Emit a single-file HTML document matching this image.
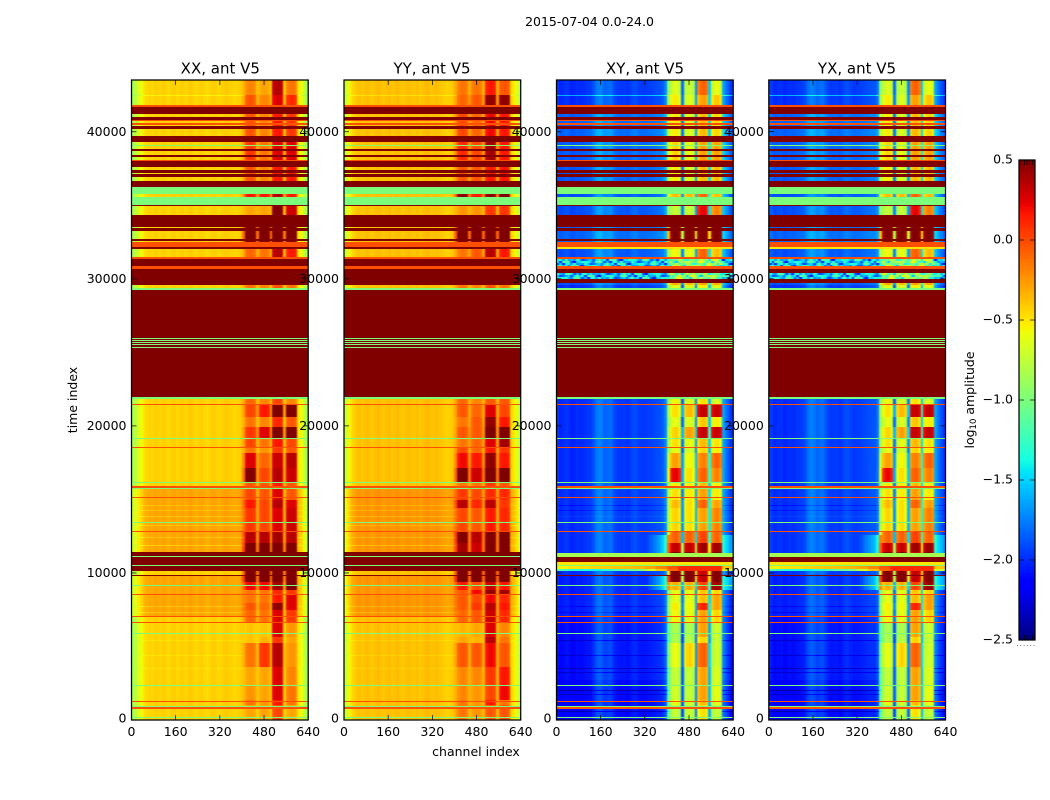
<!DOCTYPE html>
<html>
<head>
<meta charset="utf-8">
<title>2015-07-04 amplitude waterfall, ant V5</title>
<style>
html,body{margin:0;padding:0;background:#fff;}
svg{display:block;font-family:"DejaVu Sans","Liberation Sans",sans-serif;}
text{fill:#000;}
</style>
</head>
<body>
<svg id="figure" xmlns="http://www.w3.org/2000/svg" width="1050" height="800" viewBox="0 0 1050 800">
  <defs>
    <filter id="channel-smooth" color-interpolation-filters="sRGB">
      <feGaussianBlur stdDeviation="0.9 0"/>
    </filter>
  </defs>
  <rect x="0" y="0" width="1050" height="800" fill="#fff"/>
  <g id="panels"></g>
  <text x="589.5" y="26" font-size="12.5" text-anchor="middle">2015-07-04 0.0-24.0</text>
  <text x="220.3" y="73.5" font-size="15" text-anchor="middle">XX, ant V5</text>
  <text x="432" y="73.5" font-size="15" text-anchor="middle">YY, ant V5</text>
  <text x="645" y="73.5" font-size="15" text-anchor="middle">XY, ant V5</text>
  <text x="857" y="73.5" font-size="15" text-anchor="middle">YX, ant V5</text>
  <text x="0" y="0" font-size="12.5" text-anchor="middle" transform="translate(77,400) rotate(-90)">time index</text>
  <text x="476" y="756" font-size="12.5" text-anchor="middle">channel index</text>
  <g id="colorbar"></g>
  <text x="0" y="0" font-size="12.5" text-anchor="middle" transform="translate(974,400) rotate(-90)">log<tspan font-size="8.5" dy="2">10</tspan><tspan dy="-2"> amplitude</tspan></text>
</svg>
<script>
// ---------- axis tick labels ----------
const channelTicks = [0, 160, 320, 480, 640];
const timeTicks = [0, 10000, 20000, 30000, 40000];
const colorTicks = [0.5, 0.0, -0.5, -1.0, -1.5, -2.0, -2.5];
const colorTickLabels = ['0.5', '0.0', '\u22120.5', '\u22121.0', '\u22121.5', '\u22122.0', '\u22122.5'];

// ---------- channel profiles: log10 amplitude per 10-channel bin ----------
const profileXX = [-.86,-.76,-.66,-.58,-.5,-.46,-.44,-.46,-.42,-.43,-.45,-.42,-.44,-.47,-.43,-.42,-.46,-.44,-.42,-.45,-.43,-.41,-.44,-.46,-.43,-.42,-.45,-.47,-.44,-.42,-.43,-.46,-.44,-.42,-.41,-.43,-.44,-.46,-.44,-.42,-.4,-.38,-.34,-.33,-.37,-.48,-.38,-.34,-.33,-.37,-.5,-.38,-.34,-.33,-.37,-.5,-.38,-.34,-.33,-.37,-.5,-.58,-.72,-.85];
const profileYY = [-.72,-.6,-.5,-.44,-.4,-.38,-.41,-.39,-.37,-.4,-.41,-.38,-.36,-.39,-.41,-.38,-.37,-.4,-.38,-.36,-.39,-.41,-.38,-.36,-.39,-.4,-.37,-.42,-.39,-.37,-.36,-.4,-.38,-.37,-.39,-.41,-.42,-.44,-.42,-.4,-.38,-.38,-.34,-.33,-.37,-.44,-.38,-.34,-.33,-.37,-.44,-.38,-.34,-.33,-.37,-.44,-.38,-.34,-.33,-.37,-.44,-.5,-.6,-.72];
const profileXY = [-1.92,-1.98,-1.96,-1.93,-1.95,-2,-1.98,-1.95,-1.97,-1.96,-1.94,-1.92,-1.92,-1.85,-1.74,-1.7,-1.72,-1.8,-1.78,-1.76,-1.82,-1.9,-1.92,-1.93,-1.92,-1.95,-1.93,-1.88,-1.86,-1.9,-1.92,-1.93,-1.92,-1.9,-1.9,-1.88,-1.86,-1.85,-1.82,-1.7,-1,-.88,-.78,-.76,-.86,-2,-.88,-.78,-.76,-.86,-1.9,-.88,-.78,-.76,-.86,-1.7,-.88,-.78,-.76,-.86,-1.6,-1.75,-1.85,-1.95];
const profileYX = [-1.9,-1.96,-1.97,-1.94,-1.95,-1.98,-1.97,-1.94,-1.96,-1.95,-1.93,-1.92,-1.9,-1.84,-1.75,-1.7,-1.74,-1.8,-1.77,-1.75,-1.83,-1.9,-1.93,-1.92,-1.91,-1.94,-1.92,-1.87,-1.85,-1.89,-1.92,-1.92,-1.91,-1.9,-1.88,-1.87,-1.85,-1.84,-1.85,-1.75,-1,-.88,-.78,-.76,-.86,-2,-.88,-.78,-.76,-.86,-1.9,-.88,-.78,-.76,-.86,-1.7,-.88,-.78,-.76,-.86,-1.6,-1.75,-1.85,-1.95];

// ---------- flagged bands shared by every panel (time index, log10 amplitude) ----------
const flatTop =    [41820,41664,41004,40800,40576,40392,39732,39120,38848,38440,38080,37992,37400,37108,36652,36264,35544,35020,34340,33456,32688,32484,32184,31504,31348,30872,30668,30416,29968,29396,29240,26010,25860,25704,25548,25384,21984,21488,19176,18544,16204,15912,15796,15164,13464,12852,11444,11172,11104,10540,10472,9860,9180,8568,7092,6664,5916,2380,1312,972,864,238];
const flatBottom = [41664,41208,40800,40712,40480,40168,39304,39032,38672,38284,37992,37604,37216,36924,36264,35768,35020,34952,33544,33232,32592,32184,32008,31348,30872,30668,30416,29968,29580,29240,21984,25942,25792,25636,25480,25316,21828,21420,19108,18496,16136,15796,15708,15096,13396,12784,11172,11104,10540,10472,10132,9792,9112,8500,7024,6596,5848,2312,1244,864,748,170];
const flatLevel =  [-.02,.5,.5,-.02,-.02,.5,.5,-.95,.5,.5,-.02,.5,.5,.5,.5,-1,-1,.5,.5,.5,.5,-.02,.5,-.02,.5,-.02,.5,.5,.5,-1,.5,-1,-1,-1,-1,-1,-1,-.02,-1,-.02,-1,-.02,-1,-.02,-1,-.02,.5,-1,.5,-1,.5,.5,-1,-.02,-.02,-.02,-1,-1,-.02,-1,-.02,-1];

// ---------- bands that read differently in the cross hands (null = ordinary row) ----------
const crossTop =    [29696,11444,11336,10764,32184];
const crossBottom = [29580,11336,11104,10540,32008];
const crossLevel =  [null,null,-.85,-.5,-.5];

// ---------- cross-hand speckle bands and their sampled amplitudes ----------
const noiseTop =    [31348,30416];
const noiseBottom = [30872,29968];
const noiseSamples = [-1.5,-1.9,-1.35,-1.7,-1.2,-2.05,-1.45,-1.6,-1.25,-1.85,-1.4,-1.15,-1.75,-1.5,-2.1,-1.3,-1.55,-1.2,-1.95,-1.45,-1.65,-1.35,-1.1,-1.8,-1.5,-1.25,-2,-1.4,-1.6,-1.3,-1.7,-1.15,-1.9,-1.45,-1.35,-1.55,-1.25];

// ---------- cross-hand flare near t = 10000 (one value per 40 channels) ----------
const flareTop =    [10472,10288];
const flareBottom = [10288,10132];
const flareUpper = [-.55,-.5,-.48,-.45,-.42,-.4,-.38,-.35,-.3,-.2,-.05,.1,.1,.1,.1,-.4];
const flareLower = [-1.2,-1.3,-1.35,-1.4,-1.3,-1.2,-1.1,-1,-.7,-.4,-.1,.1,.1,.1,.1,-.7];

// ---------- RFI block gains per time segment, four channel blocks ----------
const gainBottom = [42500,41820,39732,38080,36264,35020,33592,32300,31416,29580,21828,21420,20624,19904,19156,18544,18136,17116,16204,15708,14960,14396,12804,12016,11444,9404,8840,8548,7936,7480,6576,5664,5216,3624,2380,1360,1020,0];
const gainXXa = [.15,.3,.3,.4,.3,.5,.05,1,.25,.55,.2,.25,.35,.2,.4,.35,.2,.6,.85,.3,.35,.5,.4,.7,.9,1,.55,.2,.2,.3,.25,-.05,-.05,.2,.05,.1,.2,.05];
const gainXXb = [.05,.15,.15,.2,.15,.5,.05,1,.2,.5,.15,.15,.5,.15,.6,.2,.1,.25,.35,.3,.3,.35,.35,.7,.9,1,.55,.2,.2,.25,.2,-.05,0,.4,.05,.05,.1,.05];
const gainXXc = [.7,.6,.5,.6,.5,.7,.85,1,.7,.6,.3,.35,.9,.45,.9,.5,.4,.65,.7,.5,.6,.7,.6,.75,.95,.9,.75,.45,.5,.8,.6,.6,.4,.7,.6,.6,.5,.35];
const gainXXd = [.2,.45,.4,.6,.5,.5,.65,1,.5,.55,.2,.15,.9,.3,.9,.35,.3,.7,.65,.3,.3,.6,.65,.7,.95,1,.95,.4,.6,.6,.4,.1,.05,.1,.15,.2,.2,.05];
const gainYYa = [.2,.25,.35,.45,.3,.8,.1,1,.2,.5,.2,.25,.3,.2,.3,.2,.35,.55,.9,.2,.4,.7,.35,.85,.75,1,.5,.3,.3,.3,.25,0,.05,.3,.15,.15,.2,.2];
const gainYYb = [.2,.3,.25,.35,.3,.5,.1,1,.3,.5,.15,.15,.25,.3,.3,.25,.25,.5,.65,.2,.35,.45,.3,.7,.65,1,.35,.55,.35,.4,.3,.05,0,.3,.15,.1,.1,.1];
const gainYYc = [.5,.8,.55,.75,.5,.8,.4,1,.7,.7,.3,.3,.6,.8,.9,.6,.5,.8,.95,.4,.45,.7,.5,.85,.85,1,.65,.8,.55,.7,.65,.6,.7,.55,.4,.35,.5,.3];
const gainYYd = [.3,.8,.5,.5,.5,.9,.4,1,.5,.6,.2,.3,.35,.5,.9,.75,.4,.5,.95,.3,.45,.4,.45,.9,.95,1,.5,.75,.45,.5,.45,.15,.2,.3,.5,.55,.2,.3];

// ---------- overall level shifts per time segment ----------
const shiftBottom = [41820,39732,36264,33592,32300,29580,15708,11444,9792,7072,2720,0];
const shiftParallel = [0,0,0,0,0,0,0,.14,0,.14,0,0];
const shiftCross = [-.04,.12,.1,.06,.12,.06,-.04,-.03,-.03,-.08,-.14,-.18];

// ---------- individual streak rows ----------
const streakTop =    [42534,14620,14280,13872,13260,12444,11900,7752,7344,5440,4420,3536,3264,2040,1768,612];
const streakBottom = [42466,14552,14212,13804,13192,12376,11832,7684,7276,5372,4352,3468,3196,1972,1700,544];
const streakParallel = [-.1,-.08,-.08,-.1,-.1,-.1,-.12,-.1,-.1,-.05,-.05,-.05,0,0,0,0];
const streakCross = [.4,-.1,-.08,.05,0,0,0,-.1,-.1,-.2,-.2,-.25,-.2,-.3,-.2,-.25];

// ---------- spill-over next to the blocks in the cross hands ----------
const leakTop =    [12580,9792];
const leakBottom = [11356,8840];
const leakLevel =  [.5,.6];
const leakRamp = [.1,.2,.3,.4,.5,.65,.8,1];

// ---------- layout and scales ----------
const NS = 'http://www.w3.org/2000/svg';
const axesTop = 80, axesBottom = 720, axesWidth = 176.7;
const timeMax = 43520, channelMax = 640, binWidth = 10;
const axesLeft = [131.5, 344, 556.5, 768.8];
const panelKeys = ['xx', 'yy', 'xy', 'yx'];
const vmin = -2.5, vmax = 0.5;
const cbarLeft = 1019, cbarRight = 1035, cbarTop = 160, cbarBottom = 640;
const bleed = 6;

function yScale(t) { return axesBottom - t / timeMax * (axesBottom - axesTop); }
function xScale(left, ch) { return left + ch / channelMax * axesWidth; }
function cbarY(v) { return cbarBottom - (v - vmin) / (vmax - vmin) * (cbarBottom - cbarTop); }

function ramp(f, pts) {
  for (let i = 1; i < pts.length; i++) {
    if (f <= pts[i][0]) {
      const a = pts[i - 1], b = pts[i];
      return a[1] + (b[1] - a[1]) * (f - a[0]) / (b[0] - a[0]);
    }
  }
  return pts[pts.length - 1][1];
}
function jet(v) {
  const f = Math.min(1, Math.max(0, (v - vmin) / (vmax - vmin)));
  const r = ramp(f, [[0, 0], [.35, 0], [.66, 1], [.89, 1], [1, .5]]);
  const g = ramp(f, [[0, 0], [.125, 0], [.375, 1], [.64, 1], [.91, 0], [1, 0]]);
  const b = ramp(f, [[0, .5], [.11, 1], [.34, 1], [.65, 0], [1, 0]]);
  return 'rgb(' + Math.round(r * 255) + ',' + Math.round(g * 255) + ',' + Math.round(b * 255) + ')';
}
function mk(tag, parent) {
  const el = document.createElementNS(NS, tag);
  parent.appendChild(el);
  return el;
}
function findBand(t, tops, bottoms) {
  for (let i = tops.length - 1; i >= 0; i--) {
    if (t < tops[i] && t >= bottoms[i]) return i;
  }
  return -1;
}
function findSegment(t, bottoms) {
  for (let i = 0; i < bottoms.length; i++) {
    if (t >= bottoms[i]) return i;
  }
  return bottoms.length - 1;
}

// ---------- row boundaries come from all the band lists ----------
function buildEdges() {
  const s = new Set([timeMax, 0]);
  [flatTop, flatBottom, crossTop, crossBottom, flareTop, flareBottom, noiseTop, noiseBottom,
   gainBottom, shiftBottom, streakTop, streakBottom, leakTop, leakBottom].forEach(function (list) {
    list.forEach(function (v) { s.add(v); });
  });
  noiseTop.forEach(function (top, i) {
    for (let t = top - 136; t > noiseBottom[i]; t -= 136) s.add(t);
  });
  return Array.from(s).sort(function (a, b) { return b - a; });
}

function gainsFor(key, seg) {
  if (key === 'yy') return [gainYYa[seg], gainYYb[seg], gainYYc[seg], gainYYd[seg]];
  return [gainXXa[seg], gainXXb[seg], gainXXc[seg], gainXXd[seg]];
}
function profileFor(key) {
  return { xx: profileXX, yy: profileYY, xy: profileXY, yx: profileYX }[key];
}
function crossResponse(g) {
  return g <= 0.6 ? g * 0.83 : 0.5 + (g - 0.6) * 2;
}

// returns a number for a uniform row, or a function bin -> value
function rowValue(key, t, rowIndex) {
  const cross = key === 'xy' || key === 'yx';
  let forcedNormal = false;
  if (cross) {
    const f = findBand(t, flareTop, flareBottom);
    if (f >= 0) {
      const fl = f === 0 ? flareUpper : flareLower;
      return function (bin) { return fl[Math.floor(bin / 4)]; };
    }
    const n = findBand(t, noiseTop, noiseBottom);
    if (n >= 0) {
      return function (bin) {
        const s = noiseSamples[(bin * 5 + rowIndex * 11) % noiseSamples.length];
        return s + (bin > 40 && bin < 60 ? 0.55 : 0);
      };
    }
    const c = findBand(t, crossTop, crossBottom);
    if (c >= 0) {
      if (crossLevel[c] !== null) return crossLevel[c];
      forcedNormal = true;
    }
  }
  if (!forcedNormal) {
    const b = findBand(t, flatTop, flatBottom);
    if (b >= 0) return flatLevel[b];
  }
  const prof = profileFor(key);
  const seg = findSegment(t, gainBottom);
  const gains = gainsFor(key, seg);
  const sh = findSegment(t, shiftBottom);
  const st = findBand(t, streakTop, streakBottom);
  const lk = cross ? findBand(t, leakTop, leakBottom) : -1;
  const base = (cross ? shiftCross[sh] : shiftParallel[sh]) +
               (st >= 0 ? (cross ? streakCross[st] : streakParallel[st]) : 0);
  const avg = (gains[0] + gains[1] + gains[2] + gains[3]) / 4;
  return function (bin) {
    let v = prof[bin];
    if (bin >= 41 && bin <= 59) {
      const k = Math.floor((bin - 41) / 5);
      if ((bin - 41) % 5 === 4) {
        v += cross ? (avg >= 0.9 ? 1.2 : 0.6) * avg : 0.35 * avg;
      } else {
        v += cross ? crossResponse(gains[k]) : gains[k];
      }
    } else {
      v += base;
      if (bin === 40) v += (cross ? 0.5 : 0.3) * gains[0];
      if (lk >= 0 && bin >= 33 && bin <= 40) v += leakLevel[lk] * leakRamp[bin - 33];
      if (lk >= 0 && bin >= 60) v += leakLevel[lk] * 0.6;
    }
    return v;
  };
}

// ---------- draw panels ----------
const edges = buildEdges();
const panelsLayer = document.getElementById('panels');
const defsEl = document.querySelector('#figure defs');
panelKeys.forEach(function (key, p) {
  const left = axesLeft[p];
  const g = mk('g', panelsLayer);
  
  
  const x0 = Math.round(xScale(left, 0));
  const x1 = Math.round(xScale(left, channelMax));

  const clip = mk('clipPath', defsEl);
  clip.setAttribute('id', 'clip-' + key);
  const clipRect = mk('rect', clip);
  clipRect.setAttribute('x', x0);
  clipRect.setAttribute('y', axesTop);
  clipRect.setAttribute('width', x1 - x0);
  clipRect.setAttribute('height', axesBottom - axesTop);

  const clipped = mk('g', g);
  
  
  clipped.setAttribute('clip-path', 'url(#clip-' + key + ')');

  const heat = mk('g', clipped);
  
  
  heat.setAttribute('shape-rendering', 'crispEdges');
  heat.setAttribute('filter', 'url(#channel-smooth)');

  const lastBin = channelMax / binWidth - 1;
  for (let r = 0; r < edges.length - 1; r++) {
    const hi = edges[r], lo = edges[r + 1];
    const yA = Math.round(yScale(hi));
    let yB = Math.round(yScale(lo));
    if (yB === yA) yB = yA + 1;
    const val = rowValue(key, (hi + lo) / 2, r);
    if (typeof val === 'number') {
      const cell = mk('rect', heat);
      
      
      cell.setAttribute('x', x0 - bleed);
      cell.setAttribute('y', yA);
      cell.setAttribute('width', x1 - x0 + 2 * bleed);
      cell.setAttribute('height', yB - yA);
      cell.setAttribute('fill', jet(val));
    } else {
      for (let b = 0; b <= lastBin; b++) {
        const cx = Math.round(xScale(left, b * binWidth)) - (b === 0 ? bleed : 0);
        const cx2 = Math.round(xScale(left, (b + 1) * binWidth)) + (b === lastBin ? bleed : 0);
        const cell = mk('rect', heat);
        
        
        cell.setAttribute('x', cx);
        cell.setAttribute('y', yA);
        cell.setAttribute('width', cx2 - cx);
        cell.setAttribute('height', yB - yA);
        cell.setAttribute('fill', jet(val(b)));
      }
    }
  }

  const frame = mk('rect', g);
  
  
  frame.setAttribute('x', left);
  frame.setAttribute('y', axesTop);
  frame.setAttribute('width', axesWidth);
  frame.setAttribute('height', axesBottom - axesTop);
  frame.setAttribute('fill', 'none');
  frame.setAttribute('stroke', '#000');
  frame.setAttribute('stroke-width', '1.25');

  channelTicks.forEach(function (c) {
    const x = xScale(left, c);
    [[axesBottom, axesBottom - 5], [axesTop, axesTop + 5]].forEach(function (pair) {
      const tick = mk('line', g);
      
      
      tick.setAttribute('x1', x);
      tick.setAttribute('x2', x);
      tick.setAttribute('y1', pair[0]);
      tick.setAttribute('y2', pair[1]);
      tick.setAttribute('stroke', '#000');
      tick.setAttribute('stroke-width', '0.7');
    });
    const label = mk('text', g);
    
    
    label.setAttribute('x', x);
    label.setAttribute('y', 736);
    label.setAttribute('font-size', '12.5');
    label.setAttribute('text-anchor', 'middle');
    label.textContent = String(c);
  });

  timeTicks.forEach(function (t) {
    const y = yScale(t);
    [[left, left + 5], [left + axesWidth, left + axesWidth - 5]].forEach(function (pair) {
      const tick = mk('line', g);
      
      
      tick.setAttribute('x1', pair[0]);
      tick.setAttribute('x2', pair[1]);
      tick.setAttribute('y1', y);
      tick.setAttribute('y2', y);
      tick.setAttribute('stroke', '#000');
      tick.setAttribute('stroke-width', '0.7');
    });
    const label = mk('text', g);
    
    
    label.setAttribute('x', left - 5);
    label.setAttribute('y', t === 0 ? y + 2.7 : y + 4);
    label.setAttribute('font-size', '12.5');
    label.setAttribute('text-anchor', 'end');
    label.textContent = String(t);
  });
});

// ---------- colorbar ----------
const cbarLayer = document.getElementById('colorbar');
const cbarSwatches = mk('g', cbarLayer);


cbarSwatches.setAttribute('shape-rendering', 'crispEdges');
for (let i = 0; i < 256; i++) {
  const vLow = vmin + (vmax - vmin) * i / 256;
  const vHigh = vmin + (vmax - vmin) * (i + 1) / 256;
  const yHigh = Math.round(cbarY(vHigh));
  const yLow = Math.round(cbarY(vLow));
  const s = mk('rect', cbarSwatches);
  
  
  s.setAttribute('x', cbarLeft);
  s.setAttribute('y', yHigh);
  s.setAttribute('width', cbarRight - cbarLeft);
  s.setAttribute('height', Math.max(1, yLow - yHigh));
  s.setAttribute('fill', jet((vLow + vHigh) / 2));
}
const cbarFrame = mk('rect', cbarLayer);


cbarFrame.setAttribute('x', cbarLeft);
cbarFrame.setAttribute('y', cbarTop);
cbarFrame.setAttribute('width', cbarRight - cbarLeft);
cbarFrame.setAttribute('height', cbarBottom - cbarTop);
cbarFrame.setAttribute('fill', 'none');
cbarFrame.setAttribute('stroke', '#000');
cbarFrame.setAttribute('stroke-width', '1.25');
colorTicks.forEach(function (v, i) {
  const y = cbarY(v);
  [[cbarLeft, cbarLeft + 5], [cbarRight, cbarRight - 5]].forEach(function (pair) {
    const tick = mk('line', cbarLayer);
    
    
    tick.setAttribute('x1', pair[0]);
    tick.setAttribute('x2', pair[1]);
    tick.setAttribute('y1', y);
    tick.setAttribute('y2', y);
    tick.setAttribute('stroke', '#000');
    tick.setAttribute('stroke-width', '0.7');
  });
  const label = mk('text', cbarLayer);
  
  
  label.setAttribute('x', 1013);
  label.setAttribute('y', y + 3.5);
  label.setAttribute('font-size', '12.5');
  label.setAttribute('text-anchor', 'end');
  label.textContent = colorTickLabels[i];
});
for (let k = 1; k <= 5; k++) {
  const x = cbarLeft + (cbarRight - cbarLeft) * k / 6;
  [[cbarTop, cbarTop + 5], [cbarBottom, cbarBottom - 5]].forEach(function (pair) {
    const tick = mk('line', cbarLayer);
    
    
    tick.setAttribute('x1', x);
    tick.setAttribute('x2', x);
    tick.setAttribute('y1', pair[0]);
    tick.setAttribute('y2', pair[1]);
    tick.setAttribute('stroke', '#000');
    tick.setAttribute('stroke-width', '0.7');
  });
}
for (let k = 0; k <= 5; k++) {
  const dot = mk('rect', cbarLayer);
  
  
  dot.setAttribute('x', cbarLeft - 2 + k * 3.3);
  dot.setAttribute('y', 645);
  dot.setAttribute('width', 1);
  dot.setAttribute('height', 1);
  dot.setAttribute('fill', '#777');
}
</script>
</body>
</html>
